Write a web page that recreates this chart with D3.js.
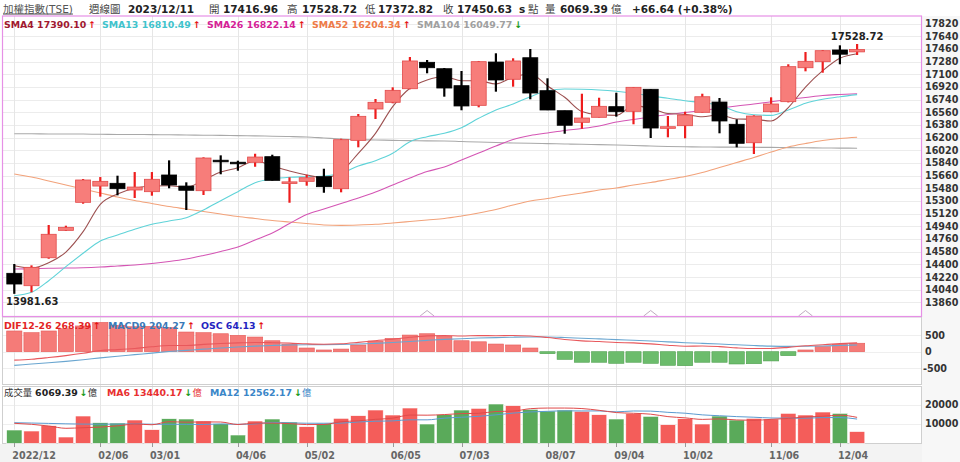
<!DOCTYPE html>
<html><head><meta charset="utf-8">
<script src="https://cdn.jsdelivr.net/npm/d3@7"></script>
<style>
body{margin:0;background:#fff;}
svg{display:block;font-family:"DejaVu Sans","Noto Sans CJK TC",sans-serif;}
</style></head><body>
<svg id="c" width="960" height="462"></svg>
<script>
// ---------------- DATA ----------------
const weeks = ["2022/12/26","2023/01/02","01/09","01/16","01/30","02/06","02/13","02/20","03/01","03/06","03/13","03/20","03/27","04/06","04/10","04/17","04/24","05/02","05/08","05/15","05/22","05/29","06/05","06/12","06/19","06/26","07/03","07/10","07/17","07/24","07/31","08/07","08/14","08/21","08/28","09/04","09/11","09/18","09/25","10/02","10/11","10/16","10/23","10/30","11/06","11/13","11/20","11/27","12/04","2023/12/11"];
const tickIndex = [0,5,8,13,17,22,26,31,35,39,44,48];
const tickText  = ["2022/12","02/06","03/01","04/06","05/02","06/05","07/03","08/07","09/04","10/02","11/06","12/04"];

const open  = [14273,14097,14494,14883,15281,15512,15551,15456,15432,15669,15512,15446,15877,15846,15849,15929,15551,15579,15645,15474,16161,16606,16701,16894,17269,17178,16937,16658,17273,17028,17334,16866,16582,16417,16488,16639,16573,16886,16336,16369,16559,16705,16389,16127,16568,16710,17192,17278,17444,17416.96];
const high  = [14405,14386,14959,14949,15612,15640,15659,15711,15711,15877,15565,15920,15948,15872,15971,15957,15636,15673,15758,16184,16535,16748,16914,17344,17302,17188,17146,17288,17397,17326,17458,17042,16582,16823,16766,16837,16918,16890,16507,16568,16823,16762,16460,16516,16772,17241,17415,17444,17510,17528.72];
const low   = [13981.63,14003,14480,14874,15261,15361,15380,15342,15375,15480,15172,15385,15679,15730,15786,15590,15275,15517,15417,15423,16062,16464,16687,16886,17113,16781,16588,16630,16852,16923,16744,16590,16255,16326,16486,16497,16389,16194,16204,16190,16555,16261,16062,15967,16560,16700,17141,17121,17241,17372.82];
const close = [14121,14358,14827,14926,15598,15579,15474,15498,15608,15527,15452,15910,15858,15832,15924,15593,15569,15630,15503,16170,16502,16701,16871,17288,17192,16904,16649,17278,17018,17288,16833,16592,16375,16478,16644,16568,16914,16336,16350,16521,16780,16436,16119,16506,16677,17207,17283,17434,17383.99,17450.63];

const sma4   = [14381,14348,14423,14575,14864,15253,15399,15480,15513,15517,15494,15598,15711,15772,15872,15797,15725,15669,15630,15716,15977,16261,16639,16900,17018,17064,17008,17006,16962,17058,17104,16933,16772,16569,16522,16516,16651,16616,16542,16530,16497,16522,16464,16460,16435,16627,16918,17150,17327,17390.10];
const sma13  = [13955,14003,14168,14367,14557,14732,14817,14898,14969,15016,15062,15172,15304,15432,15559,15612,15636,15645,15655,15693,15797,15872,15977,16142,16213,16261,16340,16474,16592,16677,16781,16866,16890,16886,16876,16857,16829,16791,16758,16724,16695,16658,16568,16525,16516,16592,16687,16744,16781,16810.49];
const sma26  = [14334,14338,14344,14348,14352,14362,14377,14391,14412,14440,14476,14526,14582,14646,14746,14845,14980,15108,15186,15264,15342,15427,15527,15626,15718,15782,15882,15981,16081,16173,16230,16265,16301,16329,16365,16421,16457,16492,16528,16556,16585,16616,16649,16677,16710,16741,16769,16798,16812,16822.14];
const sma52  = [15683,15640,15584,15527,15470,15413,15356,15307,15264,15221,15186,15150,15115,15079,15051,15023,15001,14980,14959,14954,14959,14969,14987,15008,15030,15051,15087,15129,15179,15243,15300,15335,15378,15413,15456,15484,15527,15562,15605,15647,15704,15775,15846,15917,15995,16066,16116,16159,16187,16204.34];
const sma104 = [16255,16254,16252,16251,16250,16247,16245,16244,16242,16240,16237,16234,16231,16228,16224,16220,16215,16208,16194,16180,16170,16166,16161,16157,16154,16152,16144,16137,16130,16123,16119,16115,16109,16105,16100,16095,16088,16081,16073,16069,16066,16065,16064,16062,16061,16058,16055,16052,16051,16049.77];

const dif  = [-256,-230,-178,-118,-48,35,63,99,150,186,190,221,247,266,281,273,260,239,228,240,283,334,379,436,480,490,477,488,485,491,475,429,371,329,309,279,267,237,196,167,173,153,116,96,99,132,178,212,244,268.39];
const macd = [-413,-374,-335,-292,-243,-187,-137,-90,-42,4,41,77,111,142,170,190,204,211,215,220,232,253,278,310,344,373,394,413,427,440,447,444,429,409,389,367,347,325,299,273,253,233,209,187,169,162,165,174,188,204.27];
const osc  = [157,144,157,174,195,222,200,189,192,182,149,144,136,124,111,83,56,28,13,20,51,81,101,126,136,117,83,75,58,51,28,-15,-58,-80,-80,-88,-80,-88,-103,-106,-80,-80,-93,-91,-70,-30,13,38,56,64.13];

const volume  = [6890,6370,9120,3260,14140,10670,10515,12070,7045,12740,12590,11550,10150,4300,11550,12590,11030,8600,10360,12950,14300,17250,14660,18285,10000,14815,17250,18130,20360,19480,17610,16730,17250,16580,14815,12590,15330,13990,9635,12740,10000,14140,12070,12950,12590,15540,14660,16210,15540,6069.39];
const volMA6  = [10360,9840,8960,7770,8080,8408,9013,9963,9617,11197,10938,11085,11024,9729,10480,10455,10195,9703,9738,11180,11638,12415,13020,14634,14574,14885,15377,15523,16473,16673,17941,18260,18260,18002,17078,15929,15549,15093,13823,13183,12381,12639,12096,11923,12415,12882,13658,14003,14582,13440.17];
const volMA12 = [10670,10500,10300,10100,9950,9900,9950,10050,9900,9850,9800,9747,10018,9846,10048,10826,10567,10394,10381,10455,11059,11435,11608,12169,12156,13033,13508,13969,14747,15653,16258,16573,16818,16763,16775,16301,16745,16676,16042,15593,14729,14284,13823,13508,13119,13033,13020,13321,13339,12562.17];

const priceTicks = [17820,17640,17460,17280,17100,16920,16740,16560,16380,16200,16020,15840,15660,15480,15300,15120,14940,14760,14580,14400,14220,14040,13860];
const macdTicks = [500,0,-500];
const volTicks = [20000,10000];
const markerIndex = [24,37,46];

// ---------------- DRAW ----------------
const svg = d3.select("#c");
const n = close.length;
const L = 2.5, R = 921.5;
const x = d3.scaleBand().domain(d3.range(n)).range([5.7, 5.7 + 17.2 * n]);
const cx = i => x(i) + x.bandwidth() / 2;
const yP = d3.scaleLinear().domain([13860, 17820]).range([302.4, 23.5]);
const yM = d3.scaleLinear().domain([-1000, 1000]).range([384.7, 318.7]);
const yO = d3.scaleLinear().domain([-250, 250]).range([384.7, 318.7]);
const yV = d3.scaleLinear().domain([0, 20000]).range([443.3, 404.7]);
const F2 = d3.format(".2f");

// background panels
svg.append("rect").attr("x",0).attr("y",0).attr("width",960).attr("height",462).attr("fill","#fff");
svg.append("rect").attr("x",0).attr("y",444).attr("width",960).attr("height",18).attr("fill","#f3f3f3");
svg.append("rect").attr("x",R+0.5).attr("y",16).attr("width",960-R).attr("height",446).attr("fill","#f7f7f7");

// grid
const g = svg.append("g");
g.selectAll(".hg").data(priceTicks).join("line")
  .attr("x1",L).attr("x2",R).attr("y1",d=>Math.round(yP(d))+0.5).attr("y2",d=>Math.round(yP(d))+0.5)
  .attr("stroke","#ececec");
g.selectAll(".mg").data(macdTicks).join("line")
  .attr("x1",L).attr("x2",R).attr("y1",d=>Math.round(yM(d))+0.5).attr("y2",d=>Math.round(yM(d))+0.5)
  .attr("stroke","#efefef");
g.selectAll(".vg").data(volTicks).join("line")
  .attr("x1",L).attr("x2",R).attr("y1",d=>Math.round(yV(d))+0.5).attr("y2",d=>Math.round(yV(d))+0.5)
  .attr("stroke","#efefef");
g.selectAll(".xg").data(tickIndex).join("line")
  .attr("x1",d=>Math.round(cx(d))+0.5).attr("x2",d=>Math.round(cx(d))+0.5)
  .attr("y1",16).attr("y2",447).attr("stroke","#e6e6e6");

// panel borders
svg.append("rect").attr("x",L).attr("y",317).attr("width",R-L).attr("height",67.5).attr("fill","none").attr("stroke","#cfcfcf");
svg.append("rect").attr("x",L).attr("y",386.5).attr("width",R-L).attr("height",57).attr("fill","none").attr("stroke","#cfcfcf");

// moving average lines (price)
const mline = (arr, sc) => d3.line().x((d,i)=>cx(i)).y(d=>sc(d)).curve(d3.curveMonotoneX)(arr);
const maDefs = [
  {arr:sma104, col:"#a9a9a9"},
  {arr:sma52,  col:"#f2a27a"},
  {arr:sma26,  col:"#d455b4"},
  {arr:sma13,  col:"#5fd3d8"},
  {arr:sma4,   col:"#9c5050"}
];
maDefs.forEach(m => svg.append("path").attr("d", mline(m.arr, yP)).attr("fill","none").attr("stroke",m.col).attr("stroke-width",1.1));

// candles
const cg = svg.append("g");
const bw = 15;
d3.range(n).forEach(i => {
  const up = close[i] >= open[i];
  const col = up ? "#ee1d1d" : "#000";
  cg.append("line").attr("x1",cx(i)).attr("x2",cx(i)).attr("y1",yP(high[i])).attr("y2",yP(low[i]))
    .attr("stroke",col).attr("stroke-width",2.2);
  const top = yP(Math.max(open[i],close[i])), bot = yP(Math.min(open[i],close[i]));
  const h = Math.max(bot - top, 1.6);
  cg.append("rect").attr("x",cx(i)-bw/2).attr("width",bw).attr("y",h>1.6?top:(top+bot)/2-0.8).attr("height",h)
    .attr("fill", up ? "#f77d7a" : "#000").attr("stroke", up ? "#e24a4a" : "#000").attr("stroke-width",0.8);
});

// high / low labels
const iHi = d3.maxIndex(high), iLo = d3.minIndex(low);
svg.append("text").attr("x",cx(iHi)).attr("y",yP(high[iHi])-4).attr("text-anchor","middle")
  .attr("font-size",10).attr("font-weight","bold").attr("fill","#222").text(F2(high[iHi]));
svg.append("text").attr("x",Math.max(6, cx(iLo)-23)).attr("y",yP(low[iLo])+11)
  .attr("font-size",10).attr("font-weight","bold").attr("fill","#222").text(F2(low[iLo]));

// MACD panel
const mg = svg.append("g");
mg.selectAll("rect").data(osc).join("rect")
  .attr("x",(d,i)=>cx(i)-7.6).attr("width",15.2)
  .attr("y",d=>Math.min(yO(d),yO(0))).attr("height",d=>Math.abs(yO(d)-yO(0)))
  .attr("fill",d=>d>=0?"#f57b78":"#6cbc6c").attr("stroke",d=>d>=0?"#e65a58":"#4fa04f").attr("stroke-width",0.6);
svg.append("path").attr("d", mline(macd, yM)).attr("fill","none").attr("stroke","#6aa6d0").attr("stroke-width",1.1);
svg.append("path").attr("d", mline(dif, yM)).attr("fill","none").attr("stroke","#e8585c").attr("stroke-width",1.1);

// volume panel
const vg = svg.append("g");
vg.selectAll("rect").data(volume).join("rect")
  .attr("x",(d,i)=>cx(i)-7.7).attr("width",15.4)
  .attr("y",d=>yV(d)).attr("height",d=>yV(0)-yV(d))
  .attr("fill",(d,i)=> close[i] >= (i>0?close[i-1]:open[i]) ? "#f45d5a" : "#5aaa5a")
  .attr("stroke","#fdfdfd").attr("stroke-width",0.6);
svg.append("path").attr("d", mline(volMA12, yV)).attr("fill","none").attr("stroke","#5b9bd0").attr("stroke-width",1);
svg.append("path").attr("d", mline(volMA6, yV)).attr("fill","none").attr("stroke","#e04a4a").attr("stroke-width",1);

// markers above MACD panel
svg.selectAll(".mk").data(markerIndex).join("path")
  .attr("d",d=>`M${cx(d)-7},316 L${cx(d)},310.5 L${cx(d)+7},316`)
  .attr("fill","none").attr("stroke","#b8a0b8").attr("stroke-width",0.9);

// main panel border (pink)
svg.append("rect").attr("x",L).attr("y",16).attr("width",R-L).attr("height",300.5).attr("fill","none").attr("stroke","#e690e6").attr("stroke-width",1.2);

// right axis labels
const ax = svg.append("g").attr("font-size",9.6).attr("font-weight","bold").attr("fill","#333");
ax.selectAll(".pt").data(priceTicks).join("text").attr("x",925).attr("y",d=>yP(d)).attr("dy","0.36em").text(d=>d);
ax.selectAll(".mt").data(macdTicks).join("text").attr("x",d=>d<0?923:925).attr("y",d=>yM(d)).attr("dy","0.36em").text(d=>d);
ax.selectAll(".vt").data(volTicks).join("text").attr("x",925).attr("y",d=>yV(d)).attr("dy","0.36em").text(d=>d);

// x axis
svg.selectAll(".tk").data(tickIndex).join("line")
  .attr("x1",d=>Math.round(cx(d))+0.5).attr("x2",d=>Math.round(cx(d))+0.5).attr("y1",443).attr("y2",447).attr("stroke","#999");
svg.selectAll(".tl").data(tickIndex).join("text")
  .attr("x",d=>cx(d)-2).attr("y",459).attr("font-size",9.6).attr("font-weight","bold").attr("fill","#666")
  .text((d,k)=>tickText[k]);

// header
const last = n - 1;
const chg = close[last] - close[last-1];
const hdr = [
  {x:3,   t:"加權指數(TSE)", b:false, s:10.5, u:true},
  {x:89,  t:"週線圖", b:false, s:10.5},
  {x:128, t:weeks[last], b:true, s:10.5},
  {x:209, t:"開", b:false, s:10.5},
  {x:223, t:F2(open[last]), b:true, s:10.5},
  {x:287, t:"高", b:false, s:10.5},
  {x:302, t:F2(high[last]), b:true, s:10.5},
  {x:365, t:"低", b:false, s:10.5},
  {x:378, t:F2(low[last]), b:true, s:10.5},
  {x:443, t:"收", b:false, s:10.5},
  {x:457, t:F2(close[last]), b:true, s:10.5},
  {x:519, t:"s", b:true, s:10.5},
  {x:528, t:"點", b:false, s:10.5},
  {x:545, t:"量", b:false, s:10.5},
  {x:560, t:F2(volume[last]), b:true, s:10.5},
  {x:611, t:"億", b:false, s:10.5},
  {x:632, t:(chg>=0?"+":"")+F2(chg)+" ("+(chg>=0?"+":"")+F2(chg/close[last-1]*100)+"%)", b:true, s:10.5}
];
hdr.forEach(h => {
  const t = svg.append("text").attr("x",h.x).attr("y",12.5).attr("font-size",h.s)
    .attr("font-weight",h.b?"bold":"normal").attr("fill",h.b?"#222":"#444").text(h.t);
  if (h.u) t.attr("text-decoration","underline").attr("fill","#555");
});

// legends
const arrow = (a,b) => a >= b ? {c:"#e41010", t:"↑"} : {c:"#1a9a1a", t:"↓"};
function legend(x0, y0, label, arr, col, unit) {
  const a = arrow(arr[last], arr[last-1]);
  const t = svg.append("text").attr("x",x0).attr("y",y0).attr("font-size",9.4).attr("font-weight","bold");
  t.append("tspan").attr("fill",col).text(label + " " + F2(arr[last]));
  t.append("tspan").attr("fill",a.c).attr("dx",2).text(a.t);
  if (unit) t.append("tspan").attr("fill",col).attr("font-weight","normal").text(unit);
}
legend(4, 27.5, "SMA4", sma4, "#a01830");
legend(102, 27.5, "SMA13", sma13, "#3fc3cc");
legend(207, 27.5, "SMA26", sma26, "#d52196");
legend(312, 27.5, "SMA52", sma52, "#ee7a48");
legend(417, 27.5, "SMA104", sma104, "#a0a0a0");

legend(4, 328.5, "DIF12-26", dif, "#e32424");
legend(108, 328.5, "MACD9", macd, "#3a7ab8");
legend(201, 328.5, "OSC", osc, "#2424c0");

// volume legend
(function(){
  const a = arrow(volume[last], volume[last-1]);
  const t = svg.append("text").attr("x",4).attr("y",396).attr("font-size",9.4);
  t.append("tspan").attr("fill","#333").text("成交量 ");
  t.append("tspan").attr("fill","#222").attr("font-weight","bold").text(F2(volume[last]));
  t.append("tspan").attr("fill",a.c).attr("font-weight","bold").attr("dx",2).text(a.t);
  t.append("tspan").attr("fill","#333").text("億");
})();
legend(107, 396, "MA6", volMA6, "#e83030", "億");
legend(210, 396, "MA12", volMA12, "#3a86c8", "億");
</script>
</body></html>
